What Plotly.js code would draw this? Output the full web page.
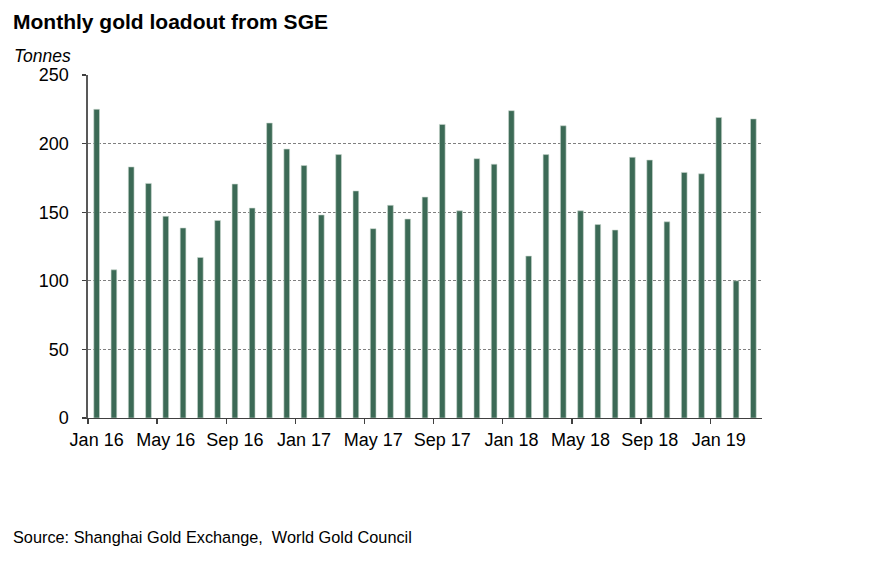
<!DOCTYPE html>
<html>
<head>
<meta charset="utf-8">
<script src="https://cdn.plot.ly/plotly-3.0.1.min.js"></script>
<style>
html,body{margin:0;padding:0;background:#fff;}
#chart{width:872px;height:571px;}
</style>
</head>
<body>
<div id="chart"></div>
<script>
const months = [
  "Jan 16","Feb 16","Mar 16","Apr 16","May 16","Jun 16","Jul 16","Aug 16","Sep 16","Oct 16","Nov 16","Dec 16",
  "Jan 17","Feb 17","Mar 17","Apr 17","May 17","Jun 17","Jul 17","Aug 17","Sep 17","Oct 17","Nov 17","Dec 17",
  "Jan 18","Feb 18","Mar 18","Apr 18","May 18","Jun 18","Jul 18","Aug 18","Sep 18","Oct 18","Nov 18","Dec 18",
  "Jan 19","Feb 19","Mar 19"
];
const loadout = [
  225, 108, 183, 171, 147, 138.5, 117, 144, 170.5, 153, 215, 196,
  184, 148, 192, 165.5, 138, 155, 145, 161, 214, 151, 189, 185,
  224, 118, 192, 213, 151, 141, 137, 190, 188, 143, 179, 178,
  219, 100, 218
];
const yTicks = [0, 50, 100, 150, 200, 250];

const FONT = "Liberation Sans, Arial, sans-serif";
const PW = 674, PH = 343, L = 88, T = 75;
const px = (x) => (x - L) / PW;
const py = (y) => 1 - (y - T) / PH;

const trace = {
  type: "bar",
  x: months,
  y: loadout,
  marker: { color: "#3c6a56", line: { color: "#c9d6cf", width: 0.6 } },
  hoverinfo: "x+y"
};

const layout = {
  width: 872,
  height: 571,
  margin: { l: L, r: 872 - L - PW, t: T, b: 571 - T - PH },
  paper_bgcolor: "#ffffff",
  plot_bgcolor: "#ffffff",
  bargap: 0.67,
  showlegend: false,
  font: { family: FONT, color: "#000000", size: 18 },
  xaxis: {
    type: "category",
    tickmode: "linear",
    tick0: 0,
    dtick: 4,
    tickson: "boundaries",
    tickangle: 0,
    ticks: "outside",
    ticklen: 5,
    tickwidth: 1.3,
    tickcolor: "#404040",
    showline: true,
    linecolor: "#404040",
    linewidth: 1.3,
    showgrid: false,
    zeroline: false,
    range: [-0.5, 38.5],
    ticklabelstandoff: 5,
    tickfont: { family: FONT, size: 18, color: "#000" },
    fixedrange: true
  },
  yaxis: {
    range: [0, 250],
    tickmode: "array",
    tickvals: yTicks,
    ticktext: yTicks.map(String),
    ticks: "outside",
    ticklen: 4,
    tickwidth: 1.3,
    tickcolor: "#404040",
    showline: true,
    linecolor: "#595959",
    linewidth: 1.6,
    showgrid: true,
    gridcolor: "#7f7f7f",
    gridwidth: 1,
    griddash: "3px,2px",
    zeroline: false,
    ticklabelstandoff: 10,
    tickfont: { family: FONT, size: 18, color: "#000" },
    fixedrange: true
  },
  annotations: [
    {
      text: "<b>Monthly gold loadout from SGE</b>",
      xref: "paper", yref: "paper",
      x: px(11), y: py(21),
      xanchor: "left", yanchor: "middle",
      showarrow: false,
      font: { family: FONT, size: 21, color: "#000" }
    },
    {
      text: "<i>Tonnes</i>",
      xref: "paper", yref: "paper",
      x: px(12), y: py(56),
      xanchor: "left", yanchor: "middle",
      showarrow: false,
      font: { family: FONT, size: 17.5, color: "#000" }
    },
    {
      text: "Source: Shanghai Gold Exchange,  World Gold Council",
      xref: "paper", yref: "paper",
      x: px(11), y: py(537),
      xanchor: "left", yanchor: "middle",
      showarrow: false,
      font: { family: FONT, size: 16.3, color: "#000" }
    }
  ]
};

Plotly.newPlot("chart", [trace], layout, { displayModeBar: false, staticPlot: true });
</script>
</body>
</html>
